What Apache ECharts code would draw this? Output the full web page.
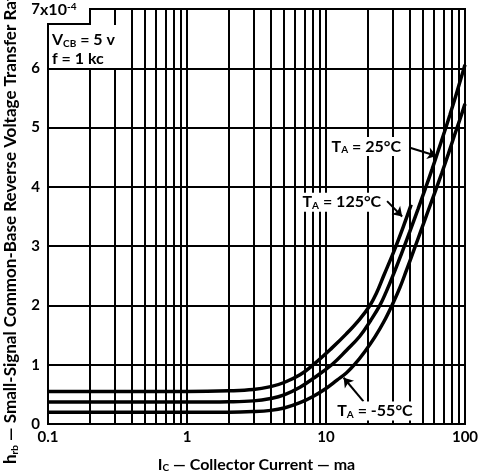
<!DOCTYPE html>
<html>
<head>
<meta charset="utf-8">
<script src="https://cdn.jsdelivr.net/npm/echarts@6/dist/echarts.min.js"></script>
<style>
  html, body { margin: 0; padding: 0; background: #fff; }
  #main { width: 483px; height: 473px; }
</style>
</head>
<body>
<div id="main"></div>
<script>
// collector current (ma) and h_rb (x10^-4)
var ic125 = [0.1, 1, 2, 3, 4, 5, 6.5, 8.1, 11, 14, 17.5, 20.7, 23, 26, 31, 36, 41];
var hrb125 = [0.55, 0.55, 0.56, 0.58, 0.63, 0.7, 0.83, 1.0, 1.28, 1.52, 1.77, 2.0, 2.2, 2.5, 2.93, 3.33, 3.7];

var ic25 = [0.1, 1, 2, 3, 4, 5, 6.5, 8, 11, 14, 17.5, 21, 24.4, 27, 30.5, 35, 40, 46, 52, 58, 64, 71, 78, 86, 93, 100];
var hrb25 = [0.37, 0.37, 0.375, 0.39, 0.43, 0.49, 0.62, 0.76, 1.0, 1.24, 1.48, 1.75, 2.0, 2.22, 2.52, 2.88, 3.24, 3.63, 3.98, 4.3, 4.6, 4.92, 5.22, 5.54, 5.81, 6.06];

var icm55 = [0.1, 1, 2, 3, 4, 5, 6.5, 8, 10, 12, 14, 16, 19, 22.5, 26, 30.5, 34, 38, 43, 48, 54, 61, 68, 76, 84, 92, 100];
var hrbm55 = [0.2, 0.2, 0.2, 0.21, 0.23, 0.27, 0.36, 0.46, 0.6, 0.74, 0.86, 1.0, 1.22, 1.47, 1.72, 2.05, 2.3, 2.6, 2.94, 3.25, 3.58, 3.92, 4.23, 4.56, 4.87, 5.14, 5.4];

var yTicks = [0, 1, 2, 3, 4, 5, 6, 7];
var minorGrid = [0.2, 0.3, 0.4, 0.5, 0.6, 0.7, 0.8, 0.9,
                 2, 3, 4, 5, 6, 7, 8, 9,
                 20, 30, 40, 50, 60, 70, 80, 90];

var FONT = 'Lato';
var rich = {
    sub: { fontSize: 10, fontWeight: 'bold', fontFamily: FONT, color: '#000', verticalAlign: 'bottom', padding: [7, 0, 0, 0] },
    n: { fontSize: 16, fontWeight: 'bold', fontFamily: FONT, color: '#000' }
};
var richBig = {
    sub: { fontSize: 10, fontWeight: 'bold', fontFamily: FONT, color: '#000', verticalAlign: 'bottom', padding: [7, 0, 0, 0] },
    n: { fontSize: 17, fontWeight: 'bold', fontFamily: FONT, color: '#000' }
};

function zip(xs, ys) {
    var out = [];
    for (var i = 0; i < xs.length; i++) out.push([xs[i], ys[i]]);
    return out;
}

var mychart = echarts.init(document.getElementById('main'));

var curveStyle = { color: '#000', width: 3.5 };

function arrow(from, to) {
    return {
        silent: true,
        symbol: ['none', 'arrow'],
        symbolSize: 9,
        label: { show: false },
        lineStyle: { color: '#000', width: 2, type: 'solid' },
        data: [[{ coord: from }, { coord: to }]]
    };
}

function tag(text, at) {
    return {
        symbol: 'rect', symbolSize: 1,
        itemStyle: { color: 'rgba(0,0,0,0)' },
        label: {
            show: true, position: 'inside', backgroundColor: '#fff', padding: [1, 2],
            formatter: text, rich: rich
        },
        data: [{ coord: at }]
    };
}

option = {
    animation: false,
    backgroundColor: '#fff',
    textStyle: { fontFamily: FONT, color: '#000' },
    grid: {
        left: 48, right: 18, top: 9, bottom: 49,
        outerBoundsMode: 'none',
        containLabel: false,
        show: true, borderColor: '#000', borderWidth: 2
    },
    xAxis: {
        type: 'log',
        logBase: 10,
        min: 0.1,
        max: 100,
        name: '{n|I}{sub|C}{n| — Collector Current — ma}',
        nameLocation: 'middle',
        nameGap: 32,
        nameTextStyle: { rich: rich },
        axisLine: { show: true, lineStyle: { color: '#000', width: 2 } },
        axisTick: { show: false },
        axisLabel: {
            color: '#000', fontSize: 15, fontWeight: 'bold', margin: 6,
            formatter: function (v) { return String(+v.toPrecision(3)); }
        },
        splitLine: { show: true, lineStyle: { color: '#000', width: 2 } }
    },
    yAxis: {
        type: 'value',
        min: yTicks[0],
        max: yTicks[yTicks.length - 1],
        interval: 1,
        axisLine: { show: true, lineStyle: { color: '#000', width: 2 } },
        axisTick: { show: false },
        axisLabel: { color: '#000', fontSize: 15, fontWeight: 'bold', margin: 8 },
        splitLine: { show: true, lineStyle: { color: '#000', width: 2 } }
    },
    series: [
        {
            // log minor grid lines
            type: 'line',
            data: [],
            z: 1,
            silent: true,
            markLine: {
                silent: true,
                symbol: 'none',
                label: { show: false },
                lineStyle: { color: '#000', width: 2, type: 'solid' },
                data: minorGrid.map(function (v) { return { xAxis: v }; })
            }
        },
        {
            name: '125',
            type: 'line',
            smooth: 0.4,
            showSymbol: false,
            z: 4,
            lineStyle: curveStyle,
            data: zip(ic125, hrb125),
            markLine: arrow([27.5, 3.76], [35.3, 3.5]),
            markPoint: tag('{n|T}{sub|A}{n| = 125°C}', [13.0, 3.74])
        },
        {
            name: '25',
            type: 'line',
            smooth: 0.4,
            showSymbol: false,
            z: 4,
            lineStyle: curveStyle,
            data: zip(ic25, hrb25),
            markLine: arrow([40.2, 4.66], [62.5, 4.52]),
            markPoint: tag('{n|T}{sub|A}{n| = 25°C}', [19.5, 4.68])
        },
        {
            name: '-55',
            type: 'line',
            smooth: 0.4,
            showSymbol: false,
            z: 4,
            lineStyle: curveStyle,
            data: zip(icm55, hrbm55),
            markLine: arrow([18.6, 0.38], [13.4, 0.78]),
            markPoint: tag('{n|T}{sub|A}{n| = -55°C}', [22.5, 0.22])
        }
    ],
    graphic: [
        // notch at the top-left corner holding the scale factor
        { type: 'rect', z: 100, shape: { x: 47, y: 0, width: 44, height: 23 }, style: { fill: '#fff' } },
        { type: 'polyline', z: 101, shape: { points: [[47, 24], [90, 24], [90, 8]] }, style: { stroke: '#000', lineWidth: 2, fill: null } },
        {
            type: 'text', z: 101, x: 40, y: 10,
            style: {
                text: '{n|x10}{sup|-4}', verticalAlign: 'middle', align: 'left',
                rich: { n: rich.n, sup: { fontSize: 10, fontWeight: 'bold', fontFamily: FONT, color: '#000', verticalAlign: 'top', padding: [0, 0, 7, 0] } }
            }
        },
        // conditions box
        { type: 'rect', z: 100, shape: { x: 50, y: 25, width: 72, height: 43 }, style: { fill: '#fff' } },
        {
            type: 'text', z: 101, x: 52, y: 40,
            style: { text: '{n|V}{sub|CB}{n| = 5 v}', verticalAlign: 'middle', align: 'left', rich: rich }
        },
        {
            type: 'text', z: 101, x: 52, y: 59,
            style: { text: 'f = 1 kc', verticalAlign: 'middle', align: 'left', font: 'bold 16px ' + FONT, fill: '#000' }
        },
        // rotated y axis title
        {
            type: 'text', z: 101, x: 11, y: 464, rotation: Math.PI / 2,
            style: {
                text: '{n|h}{sub|rb}{n| — Small-Signal Common-Base Reverse Voltage Transfer Ratio}',
                verticalAlign: 'middle', align: 'left', rich: richBig
            }
        }
    ]
};

mychart.setOption(option);
</script>
</body>
</html>
